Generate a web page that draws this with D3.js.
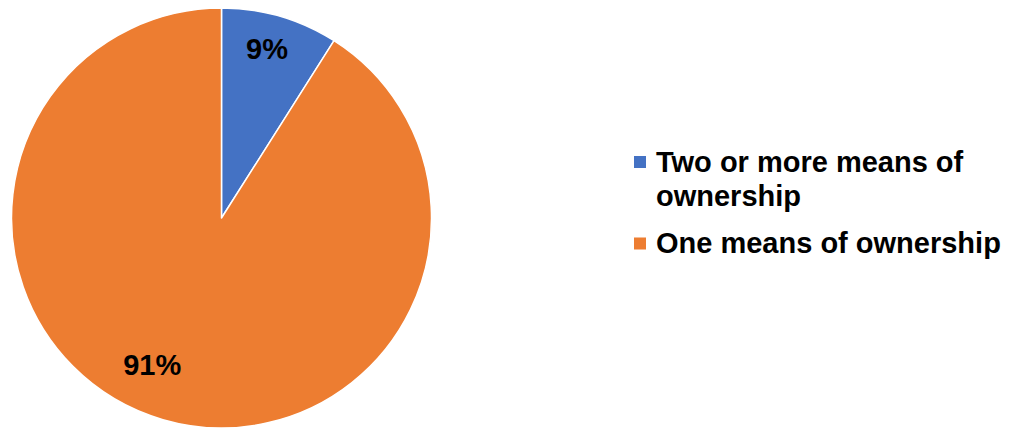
<!DOCTYPE html>
<html>
<head>
<meta charset="utf-8">
<script src="https://cdn.jsdelivr.net/npm/d3@7"></script>
<style>
  html, body { margin: 0; padding: 0; background: #fff; }
  svg { display: block; }
  text { font-family: "Liberation Sans", Arial, sans-serif; font-weight: bold; fill: #000; }
</style>
</head>
<body>
<svg id="chart" width="1011" height="428"></svg>
<script>
// Share of owners by number of ownership means
const categories = ["Two or more means of ownership", "One means of ownership"];
const values = [9, 91];
const colors = ["#4472C4", "#ED7D31"];
const legendLines = [["Two or more means of", "ownership"], ["One means of ownership"]];

// Layout
const cx = 221.5, cy = 218, radius = 210;
// label placement: radial position (fraction of radius) and angle shift (radians) per slice
const labelRadius = [0.835, 0.77];
const labelShift = [-0.02, 0.16];

const svg = d3.select("#chart");

const pie = d3.pie().sort(null).value(d => d)(values);
const arc = d3.arc().innerRadius(0).outerRadius(radius);

const g = svg.append("g").attr("transform", `translate(${cx},${cy})`);

g.selectAll("path.slice")
  .data(pie)
  .join("path")
  .attr("class", "slice")
  .attr("d", arc)
  .attr("fill", (d, i) => colors[i])
  .attr("stroke", "#fff")
  .attr("stroke-width", 1.5)
  .attr("stroke-linejoin", "round");

g.selectAll("text.pct")
  .data(pie)
  .join("text")
  .attr("class", "pct")
  .attr("transform", (d, i) => {
    const a = (d.startAngle + d.endAngle) / 2 + labelShift[i];
    const r = radius * labelRadius[i];
    return `translate(${r * Math.sin(a)},${-r * Math.cos(a)})`;
  })
  .attr("text-anchor", "middle")
  .attr("dy", "0.36em")
  .style("font-size", "29px")
  .text(d => d.data + "%");

// Legend
const legend = svg.append("g").attr("transform", "translate(634,0)");
const rowTop = [156, 237.5];
const lineGap = 34;

const items = legend.selectAll("g.item")
  .data(categories)
  .join("g")
  .attr("class", "item")
  .attr("transform", (d, i) => `translate(0,${rowTop[i]})`);

items.append("rect")
  .attr("width", 12)
  .attr("height", 12)
  .attr("fill", (d, i) => colors[i]);

items.append("text")
  .attr("y", 15.5)
  .style("font-size", "29px")
  .selectAll("tspan")
  .data((d, i) => legendLines[i])
  .join("tspan")
  .attr("x", 22)
  .attr("dy", (d, j) => j === 0 ? 0 : lineGap)
  .text(d => d);
</script>
</body>
</html>
